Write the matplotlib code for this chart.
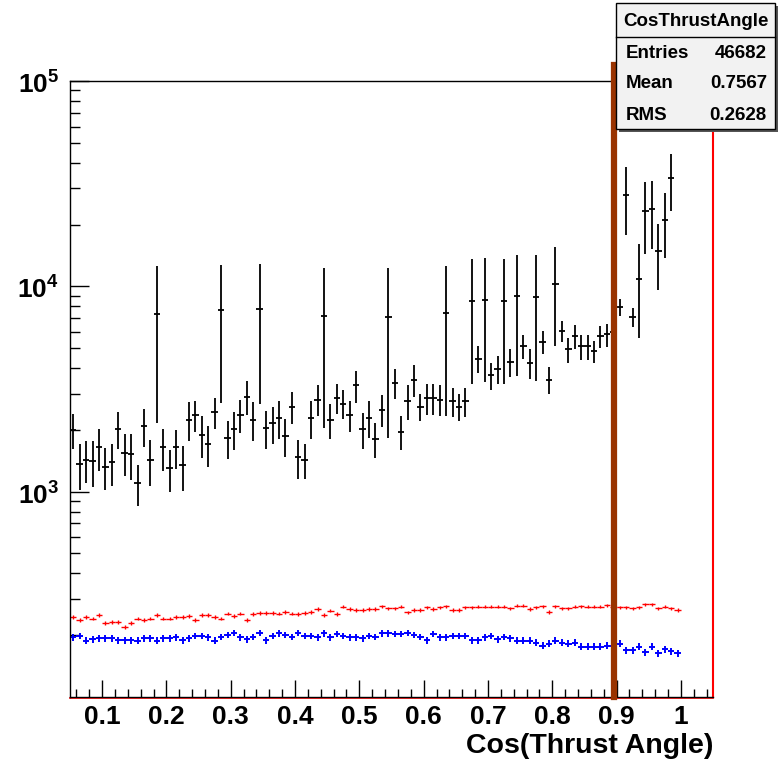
import numpy as np
import matplotlib.pyplot as plt
from matplotlib.patches import Rectangle
from matplotlib.lines import Line2D
from matplotlib.ticker import FixedLocator, NullFormatter

plt.rcParams['font.family'] = ['Liberation Sans', 'DejaVu Sans']
plt.rcParams['font.weight'] = 'bold'
plt.rcParams['mathtext.fontset'] = 'custom'
plt.rcParams['mathtext.rm'] = 'Liberation Sans:bold'
plt.rcParams['mathtext.bf'] = 'Liberation Sans:bold'

# histogram binning (0.05 .. 1.00, width 0.01)
BIN_LO = 0.05
BIN_W = 0.01
NBINS = 95
CUT = 0.896

# data (black = data, red / blue = MC samples)
black = [2006, 1365, 1428, 1405, 1644, 1324, 1390, 2023, 1549, 1527,
         1098, 2083, 1428, 7360, 1644, 1299, 1644, 1344, 2245, 2367,
         1897, 1709, 2437, 7695, 1834, 2013, 2367, 2905, 2245, 7785,
         2046, 2153, 2288, 1870, 2598, 1470, 1428, 2288, 2810, 7194,
         2245, 2865, 2679, 2367, 3289, 2013, 2288, 1808, 2512, 7080,
         3390, 1962, 2779, 3506, 2598, 2851, 2851, 2810, 7447, 2757,
         2598, 2757, 8450, 4438, 8610, 3680, 3967, 8450, 4272, 8970,
         5113, 4225, 8870, 5350, 3506, 10310, 6053, 4928, 5702, 5097,
         5097, 4817, 5702, 5834, 5966, 7925, 27870, 7080, 10820, 23220,
         23830, 14820, 21150, 33750, np.nan]
black_err = [387, 344, 332, 355, 379, 302, 319, 414, 363, 385,
             251, 437, 359, 5200, 379, 304, 356, 332, 482, 412,
             433, 390, 428, 5000, 385, 424, 443, 546, 482, 5100,
             438, 445, 491, 393, 452, 317, 281, 491, 479, 5150,
             434, 486, 431, 412, 574, 396, 469, 345, 451, 5260,
             577, 368, 536, 612, 399, 500, 500, 479, 5110, 449,
             399, 449, 5090, 675, 5190, 563, 623, 5090, 656, 5310,
             697, 703, 5400, 680, 531, 5200, 700, 695, 750, 713,
             713, 578, 680, 746, 750, 785, 10160, 754, 5200, 8900,
             8600, 5200, 7400, 10400, 0]
red = [246, 237, 246, 241, 251, 229, 232, 232, 220, 229,
       241, 237, 241, 251, 241, 241, 246, 246, 248, 237,
       251, 251, 246, 241, 255, 248, 255, 237, 253, 257,
       257, 257, 255, 260, 255, 253, 257, 260, 268, 251,
       263, 253, 275, 268, 265, 265, 268, 268, 277, 270,
       270, 275, 258, 265, 265, 273, 268, 273, 277, 265,
       265, 273, 273, 275, 275, 275, 275, 275, 270, 278,
       278, 268, 273, 277, 260, 277, 270, 270, 275, 277,
       275, 275, 275, 280, 275, 273, 273, 270, 273, 283,
       283, 270, 275, 270, 265]
blue = [195, 199, 188, 191, 193, 193, 193, 189, 189, 189,
        188, 193, 193, 188, 193, 193, 195, 189, 193, 199,
        199, 195, 188, 196, 201, 206, 195, 191, 196, 206,
        189, 199, 204, 201, 196, 206, 199, 199, 195, 204,
        195, 202, 199, 195, 195, 193, 199, 196, 204, 204,
        202, 202, 206, 201, 196, 189, 202, 195, 195, 199,
        199, 199, 189, 189, 195, 199, 191, 196, 193, 188,
        188, 188, 184, 178, 182, 188, 184, 182, 184, 176,
        176, 176, 176, 178, 178, 182, 169, 169, 176, 165,
        176, 163, 171, 167, 163]
red_err = 5
blue_err = 7

x_ticks = [0.1, 0.2, 0.3, 0.4, 0.5, 0.6, 0.7, 0.8, 0.9, 1.0]
x_labels = ['0.1', '0.2', '0.3', '0.4', '0.5', '0.6', '0.7', '0.8', '0.9', '1']
y_ticks = [1e3, 1e4, 1e5]
y_labels = [r'$10^{3}$', r'$10^{4}$', r'$10^{5}$']

stats_title = 'CosThrustAngle'
stats_rows = [('Entries', '46682'), ('Mean', '0.7567'), ('RMS', '0.2628')]

x = BIN_LO + BIN_W * (np.arange(NBINS) + 0.5)
black = np.array(black, dtype=float)
black_err = np.array(black_err, dtype=float)
ok = np.isfinite(black)

fig = plt.figure(figsize=(7.8, 7.61), dpi=100)
ax = fig.add_axes([70 / 780, 1 - 697 / 761, 643 / 780, 616 / 761])

ax.errorbar(x, red, yerr=red_err, xerr=BIN_W / 2, fmt='none',
            ecolor='#ff0000', elinewidth=1.0, capsize=0)
ax.errorbar(x, blue, yerr=blue_err, xerr=BIN_W / 2, fmt='none',
            ecolor='#0000ff', elinewidth=1.4, capsize=0)
ax.errorbar(x[ok], black[ok], yerr=black_err[ok], xerr=BIN_W / 2, fmt='none',
            ecolor='black', elinewidth=1.3, capsize=0)

ax.set_yscale('log')
ax.set_xlim(0.05, 1.05)
ax.set_ylim(100, 1e5)

# cut line
trans = ax.get_xaxis_transform()
ax.add_line(Line2D([CUT, CUT], [0, 1.026], transform=trans, color='#993300',
                   lw=4.5, clip_on=False, zorder=5))

ax.xaxis.set_major_locator(FixedLocator(x_ticks))
ax.set_xticklabels(x_labels)
ax.xaxis.set_minor_locator(FixedLocator(np.arange(0.06, 1.05, 0.02)))
ax.yaxis.set_major_locator(FixedLocator(y_ticks))
ax.set_yticklabels(y_labels)
ax.yaxis.set_minor_locator(FixedLocator(
    [m * 10 ** e for e in (2, 3, 4) for m in range(2, 10)]))
ax.yaxis.set_minor_formatter(NullFormatter())

ax.tick_params(axis='x', which='major', direction='in', length=12, width=1,
               labelsize=19, pad=6)
ax.tick_params(axis='x', which='minor', direction='in', length=6, width=1)
ax.tick_params(axis='y', which='major', direction='in', length=14, width=1,
               labelsize=19, pad=8)
ax.tick_params(axis='y', which='minor', direction='in', length=7, width=1)

for s in ('left', 'top', 'bottom'):
    ax.spines[s].set_color('black')
    ax.spines[s].set_linewidth(1.0)
ax.spines['right'].set_color('#ff0000')
ax.spines['right'].set_linewidth(1.5)
ax.add_line(Line2D([0, 1], [-0.002, -0.002], transform=ax.transAxes,
                   color='#ff0000', lw=1.2, clip_on=False))

fig.text(713 / 780, 1 - 759 / 761, 'Cos(Thrust Angle)', ha='right', va='bottom',
         fontsize=20.5, fontweight='bold')

# stats box
W, H = 780, 761
bx0, by0, bx1, by1 = 616, 3, 775, 129
fig.patches.append(Rectangle(((bx0 + 3) / W, 1 - (by1 + 3) / H),
                             (bx1 - bx0) / W, (by1 - by0) / H,
                             transform=fig.transFigure, facecolor='#555555',
                             edgecolor='none', zorder=9))
fig.patches.append(Rectangle((bx0 / W, 1 - by1 / H), (bx1 - bx0) / W,
                             (by1 - by0) / H, transform=fig.transFigure,
                             facecolor='#f2f2f2', edgecolor='black', lw=1,
                             zorder=10))
fig.lines.append(Line2D([bx0 / W, bx1 / W], [1 - 37 / H, 1 - 37 / H],
                        transform=fig.transFigure, color='black', lw=1,
                        zorder=11))
fig.text((bx0 + bx1) / 2 / W, 1 - 21 / H, stats_title, ha='center',
         va='center', fontsize=13.5, fontweight='bold', zorder=12)
for i, (k, v) in enumerate(stats_rows):
    yy = 1 - (53 + 31 * i) / H
    fig.text(626 / W, yy, k, ha='left', va='center', fontsize=13.5,
             fontweight='bold', zorder=12)
    fig.text(767 / W, yy, v, ha='right', va='center', fontsize=13.5,
             fontweight='bold', zorder=12)

fig.savefig('out.png', dpi=100)
